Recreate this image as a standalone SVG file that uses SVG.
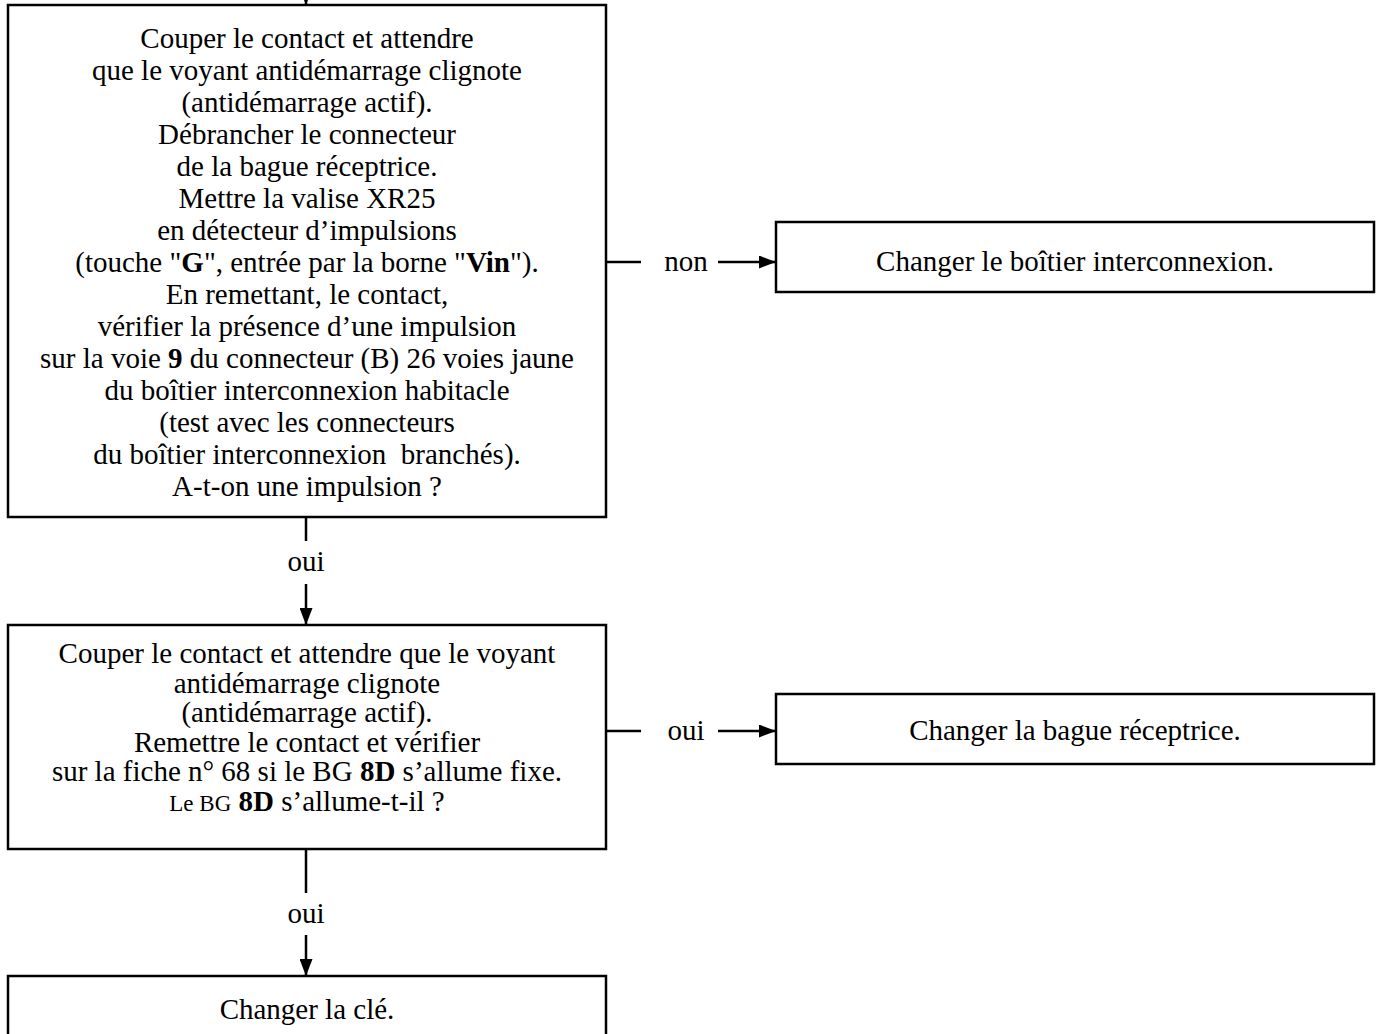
<svg xmlns="http://www.w3.org/2000/svg" width="1383" height="1034" viewBox="0 0 1383 1034">
<defs>
<style>
.box{fill:#fff;stroke:#000;stroke-width:2.5}
.t{font-family:"Liberation Serif","Times New Roman",serif;font-size:29px;fill:#000;text-anchor:middle}
.b{font-weight:bold}
.ln{stroke:#000;stroke-width:2.5;fill:none}
.sm{font-size:23px}
</style>
<marker id="ah" markerWidth="17" markerHeight="13" refX="17" refY="6.5" orient="auto" markerUnits="userSpaceOnUse">
<path d="M0,0 L17,6.5 L0,13 Z" fill="#000"/>
</marker>
</defs>
<rect width="1383" height="1034" fill="#fff"/>

<g id="connectors">
<line class="ln" x1="306" y1="-10" x2="306" y2="5" marker-end="url(#ah)"/>
<line class="ln" x1="606" y1="262" x2="641" y2="262"/>
<text class="t" x="686" y="271">non</text>
<line class="ln" x1="718" y1="262" x2="776" y2="262" marker-end="url(#ah)"/>
<line class="ln" x1="306" y1="517" x2="306" y2="541"/>
<text class="t" x="306" y="571">oui</text>
<line class="ln" x1="306" y1="584" x2="306" y2="625" marker-end="url(#ah)"/>
<line class="ln" x1="606" y1="731" x2="641" y2="731"/>
<text class="t" x="686" y="740">oui</text>
<line class="ln" x1="718" y1="731" x2="776" y2="731" marker-end="url(#ah)"/>
<line class="ln" x1="306" y1="849" x2="306" y2="893"/>
<text class="t" x="306" y="923">oui</text>
<line class="ln" x1="306" y1="935" x2="306" y2="976" marker-end="url(#ah)"/>
</g>

<g id="n1">
<rect class="box" x="8" y="5" width="598" height="512"/>
<text class="t" x="307" y="48">Couper le contact et attendre</text>
<text class="t" x="307" y="80">que le voyant antidémarrage clignote</text>
<text class="t" x="307" y="112">(antidémarrage actif).</text>
<text class="t" x="307" y="144">Débrancher le connecteur</text>
<text class="t" x="307" y="176">de la bague réceptrice.</text>
<text class="t" x="307" y="208">Mettre la valise XR25</text>
<text class="t" x="307" y="240">en détecteur d’impulsions</text>
<text class="t" x="307" y="272">(touche "<tspan class="b">G</tspan>", entrée par la borne "<tspan class="b">Vin</tspan>").</text>
<text class="t" x="307" y="304">En remettant, le contact,</text>
<text class="t" x="307" y="336">vérifier la présence d’une impulsion</text>
<text class="t" x="307" y="368">sur la voie <tspan class="b">9</tspan> du connecteur (B) 26 voies jaune</text>
<text class="t" x="307" y="400">du boîtier interconnexion habitacle</text>
<text class="t" x="307" y="432">(test avec les connecteurs</text>
<text class="t" x="307" y="464" xml:space="preserve">du boîtier interconnexion  branchés).</text>
<text class="t" x="307" y="496">A-t-on une impulsion ?</text>
</g>

<g id="n2">
<rect class="box" x="776" y="222" width="598" height="70"/>
<text class="t" x="1075" y="271">Changer le boîtier interconnexion.</text>
</g>

<g id="n3">
<rect class="box" x="8" y="625" width="598" height="224"/>
<text class="t" x="307" y="663">Couper le contact et attendre que le voyant</text>
<text class="t" x="307" y="693">antidémarrage clignote</text>
<text class="t" x="307" y="722">(antidémarrage actif).</text>
<text class="t" x="307" y="752">Remettre le contact et vérifier</text>
<text class="t" x="307" y="781">sur la fiche n° 68 si le BG <tspan class="b">8D</tspan> s’allume fixe.</text>
<text class="t" x="307" y="811"><tspan class="sm">Le BG</tspan> <tspan class="b">8D</tspan> s’allume-t-il ?</text>
</g>

<g id="n4">
<rect class="box" x="776" y="694" width="598" height="70"/>
<text class="t" x="1075" y="740">Changer la bague réceptrice.</text>
</g>

<g id="n5">
<rect class="box" x="8" y="976" width="598" height="80"/>
<text class="t" x="307" y="1019">Changer la clé.</text>
</g>
</svg>
